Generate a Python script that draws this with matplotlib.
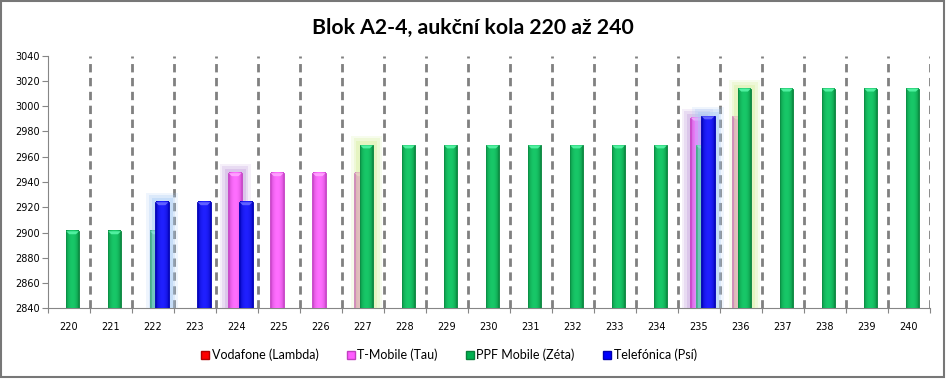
import numpy as np
import matplotlib
matplotlib.use("Agg")
import matplotlib.pyplot as plt
from matplotlib.patches import Rectangle, Polygon
from matplotlib.lines import Line2D
from matplotlib.colors import to_rgb

nan = np.nan

rounds = list(range(220, 241))
series_names = ["Vodafone (Lambda)", "T-Mobile (Tau)", "PPF Mobile (Zéta)", "Telefónica (Psí)"]
vodafone = [nan] * 21
tmobile = [nan, nan, nan, nan, 2947, 2947, 2947, 2947, nan, nan, nan, nan, nan, nan, nan,
           2991, 2992, nan, nan, nan, nan]
ppf = [2901, 2901, 2901, nan, nan, nan, nan, 2969, 2969, 2969, 2969, 2969, 2969, 2969, 2969,
       2969, 3014, 3014, 3014, 3014, 3014]
telefonica = [nan, nan, 2924, 2924, 2924, nan, nan, nan, nan, nan, nan, nan, nan, nan, nan,
              2992, nan, nan, nan, nan, nan]
highlights = {1: [224, 235], 2: [227, 236], 3: [222, 235]}

series_values = [vodafone, tmobile, ppf, telefonica]
base_colors = ["#ff0000", "#ff5cff", "#00b050", "#0000ff"]
dark_colors = ["#b00000", "#c040c0", "#07803a", "#0000b0"]
light_colors = ["#ff6060", "#ff6eff", "#18c868", "#2020ff"]
cap_colors = ["#ff9090", "#ffa0ff", "#50f0a0", "#6060ff"]
glow_colors = ["#ffb0b0", "#c8a8e0", "#d8f0a0", "#a8ccf5"]

ymin, ymax = 2840, 3040

fig = plt.figure(figsize=(9.46, 3.79), dpi=100)
ax = fig.add_axes([48 / 946, 1 - 308.3 / 379, (930 - 48) / 946, (308.3 - 55.7) / 379])

x = np.arange(len(rounds))
width = 0.32
offsets = [-0.175, -0.045, 0.085, 0.215]
px_unit = (ymax - ymin) / 252.6


def grad_row(dark, light, n=40):
    d = np.array(to_rgb(dark))
    l = np.array(to_rgb(light))
    t = np.linspace(0, 1, n)
    f = np.sin(np.pi * t) ** 0.5
    return (d[None, :] + (l - d)[None, :] * f[:, None])[None, :, :]


for i, vals in enumerate(series_values):
    vals = np.array(vals, dtype=float)
    xs = x + offsets[i]
    z = 2 + i
    for r in highlights.get(i, []):
        j = rounds.index(r)
        v = vals[j]
        for dw, dh, a in [(0.42, 9, 0.18), (0.30, 7, 0.28), (0.18, 4, 0.4)]:
            ax.bar(xs[j], v - ymin + dh * px_unit, bottom=ymin, width=width + dw,
                   color=glow_colors[i], alpha=a, lw=0, zorder=z)
    mask = ~np.isnan(vals)
    ax.bar(xs[mask], vals[mask] - ymin, bottom=ymin, width=width, color=base_colors[i],
           edgecolor=dark_colors[i], lw=0.6, zorder=z + 0.1)
    g = grad_row(dark_colors[i], light_colors[i])
    for xc, v in zip(xs[mask], vals[mask]):
        ax.imshow(g, extent=(xc - width / 2 + 0.01, xc + width / 2 - 0.01, ymin, v),
                  aspect="auto", zorder=z + 0.2, interpolation="bilinear")
        cap_h = 3 * px_unit
        ax.add_patch(Polygon([(xc - width / 2 + 0.01, v), (xc + width / 2 - 0.01, v),
                              (xc + width / 4, v - cap_h), (xc - width / 4, v - cap_h)],
                             closed=True, color=cap_colors[i], lw=0, zorder=z + 0.3))

for k in range(1, len(rounds) + 1):
    ax.axvline(k - 0.5, color="#808080", ls=(0, (3, 2)), lw=2, zorder=1)

ax.set_xlim(-0.5, len(rounds) - 0.5)
ax.set_ylim(ymin, ymax)
ax.set_yticks(np.arange(ymin, ymax + 1, 20))
ax.set_xticks(np.arange(-0.5, len(rounds)), labels=[""] * (len(rounds) + 1))
ax.set_xticks(x, labels=[str(r) for r in rounds], minor=True)
ax.tick_params(axis="x", which="major", length=3.5, color="#868686")
ax.tick_params(axis="x", which="minor", length=0, labelsize=7, pad=10)
ax.tick_params(axis="y", length=4, color="#868686", labelsize=7, pad=2)
for s in ["top", "right"]:
    ax.spines[s].set_visible(False)
for s in ["left", "bottom"]:
    ax.spines[s].set_color("#868686")

fig.text(472.5 / 946, 1 - 28 / 379, "Blok A2-4, aukční kola 220 až 240", ha="center",
         va="center", fontsize=15.3, fontweight="bold", family=["Lato", "DejaVu Sans"])

handles = [Line2D([], [], marker="s", ls="", markersize=6, markerfacecolor=base_colors[i],
                  markeredgecolor=dark_colors[i]) for i in range(4)]
fig.legend(handles, series_names, loc="center", bbox_to_anchor=(448.5 / 946, 1 - 355 / 379),
           ncol=4, frameon=False, handletextpad=0.1, columnspacing=2.2, handlelength=0.8,
           prop={"family": ["Lato", "DejaVu Sans"], "size": 9})

fig.patches.append(Rectangle((0.001, 0.004), 0.997, 0.993, transform=fig.transFigure,
                             fill=False, edgecolor="#777777", lw=1.5))

fig.savefig("out.png", dpi=100)
